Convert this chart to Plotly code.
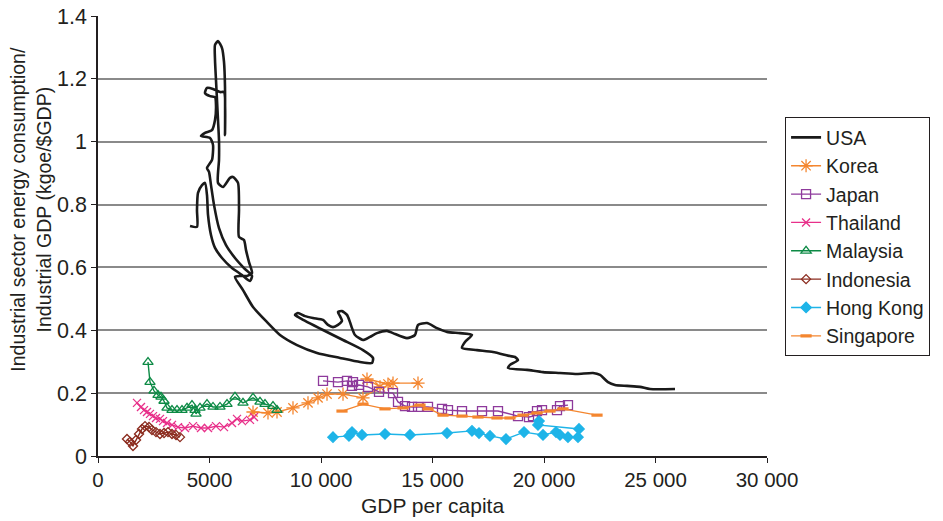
import plotly.graph_objects as go

# ---------------- data ----------------
usa_x = [4126, 4439, 4439, 4484, 4664, 4798, 4888, 4933, 5067, 5247, 5561, 6009, 6457, 6816, 6906,
         6547, 6143, 5740, 5426, 5202, 5067, 4978, 4888, 5112, 5157, 5022, 4619, 4798, 5112, 5247,
         5291, 5247, 5022, 4798, 4888, 5157, 5471, 5650, 5695, 5695, 5650, 5561, 5381, 5247, 5247,
         5291, 5336, 5381, 5426, 5426, 5381, 5605, 5919, 6054, 6278, 6323, 6323, 6547, 6637, 6771,
         6906, 6682, 6368, 6143, 6502, 6951, 7578, 8161, 8924, 9821, 10852, 11749, 12287, 12332, 11883,
         10987, 10090, 9058, 8834, 8969, 9283, 9641, 10090, 10314, 10538, 10762, 10942, 10852, 10762, 10942,
         11166, 11300, 11390, 11525, 11883, 12197, 12511, 12960, 13229, 13856, 14215, 14350, 14753, 15202, 15650,
         16233, 16771, 16457, 16323, 16995, 17713, 18475, 18700, 18834, 18475, 18386, 19238, 19955, 20717, 21480,
         22197, 22511, 22870, 23184, 23722, 24305, 24753, 25874]
usa_y = [0.732, 0.729, 0.783, 0.837, 0.862, 0.869, 0.830, 0.767, 0.703, 0.662, 0.630, 0.598, 0.576, 0.557, 0.573,
         0.598, 0.630, 0.671, 0.725, 0.799, 0.862, 0.904, 0.916, 0.942, 0.990, 1.012, 1.018, 1.028, 1.037, 1.069,
         1.117, 1.142, 1.145, 1.155, 1.171, 1.168, 1.158, 1.158, 1.021, 1.174, 1.254, 1.298, 1.320, 1.308, 1.260,
         1.196, 1.133, 1.069, 1.005, 0.942, 0.869, 0.856, 0.885, 0.888, 0.869, 0.783, 0.697, 0.687, 0.655, 0.617,
         0.582, 0.573, 0.573, 0.570, 0.528, 0.474, 0.426, 0.385, 0.353, 0.328, 0.312, 0.299, 0.296, 0.312, 0.337,
         0.369, 0.401, 0.439, 0.449, 0.455, 0.445, 0.439, 0.433, 0.417, 0.410, 0.417, 0.430, 0.445, 0.458, 0.461,
         0.449, 0.426, 0.407, 0.385, 0.369, 0.379, 0.391, 0.398, 0.391, 0.375, 0.385, 0.417, 0.423, 0.407, 0.395,
         0.391, 0.385, 0.363, 0.344, 0.337, 0.331, 0.318, 0.315, 0.305, 0.290, 0.280, 0.274, 0.267, 0.264, 0.261,
         0.264, 0.258, 0.235, 0.226, 0.223, 0.220, 0.213, 0.213]

korea_x = [6951, 7623, 8027, 8744, 9417, 9865, 10269, 10987, 11883, 12646, 12063, 13004, 13229, 14350]
korea_y = [0.140, 0.137, 0.140, 0.153, 0.169, 0.185, 0.197, 0.197, 0.185, 0.220, 0.245, 0.229, 0.232, 0.232]

japan_x = [10090, 10762, 11166, 11435, 11390, 11704, 12108, 12601, 13229, 13453, 13767, 14081, 14350, 14798,
           15426, 15695, 16323, 17220, 17937, 18834, 19327, 19507, 19686, 19910, 20583, 20717, 21076]
japan_y = [0.239, 0.235, 0.239, 0.235, 0.223, 0.226, 0.220, 0.204, 0.200, 0.172, 0.159, 0.156, 0.156, 0.156,
           0.150, 0.146, 0.143, 0.143, 0.143, 0.127, 0.124, 0.127, 0.143, 0.146, 0.146, 0.159, 0.162]

thailand_x = [1749, 1928, 2063, 2197, 2332, 2466, 2601, 2780, 2915, 3094, 3318, 3587, 3901, 4260, 4619,
              4933, 5291, 5650, 6009, 6233, 6457, 6816, 6996]
thailand_y = [0.169, 0.156, 0.146, 0.140, 0.134, 0.127, 0.121, 0.118, 0.111, 0.105, 0.099, 0.092, 0.089, 0.095, 0.089,
              0.089, 0.095, 0.092, 0.105, 0.118, 0.111, 0.115, 0.124]

malaysia_x = [2242, 2332, 2511, 2691, 2825, 2960, 3094, 3318, 3543, 3767, 3991, 4215, 4350, 4395, 4574,
              4888, 5157, 5471, 5785, 6143, 6502, 6951, 7264, 7489, 7847, 8027]
malaysia_y = [0.299, 0.235, 0.207, 0.194, 0.188, 0.175, 0.153, 0.146, 0.146, 0.146, 0.153, 0.162, 0.146, 0.134, 0.153,
              0.165, 0.156, 0.156, 0.165, 0.188, 0.169, 0.185, 0.172, 0.165, 0.159, 0.146]

indonesia_x = [1300, 1435, 1569, 1704, 1839, 1973, 2108, 2287, 2421, 2601, 2780, 2960, 3139, 3318, 3498, 3677]
indonesia_y = [0.054, 0.045, 0.032, 0.051, 0.070, 0.086, 0.095, 0.092, 0.083, 0.076, 0.070, 0.073, 0.076, 0.070, 0.067, 0.060]

hongkong_x = [10538, 11255, 11390, 11838, 12870, 13991, 15650, 16771, 17085, 17578, 18296, 19103, 19955, 20538,
              20717, 21076, 21525, 21569, 19731, 19776]
hongkong_y = [0.060, 0.064, 0.076, 0.067, 0.070, 0.067, 0.073, 0.080, 0.073, 0.064, 0.054, 0.076, 0.067, 0.076,
              0.067, 0.060, 0.060, 0.086, 0.099, 0.111]

singapore_x = [10942, 11883, 12870, 13677, 14439, 14798, 15471, 16323, 17040, 17892, 18475, 19058, 19686, 20269,
               20852, 22377]
singapore_y = [0.143, 0.165, 0.150, 0.153, 0.162, 0.150, 0.130, 0.127, 0.124, 0.121, 0.121, 0.130, 0.137, 0.143,
               0.150, 0.130]

x_tick_vals = [0, 5000, 10000, 15000, 20000, 25000, 30000]
x_tick_text = ["0", "5000", "10 000", "15 000", "20 000", "25 000", "30 000"]
y_tick_vals = [0, 0.2, 0.4, 0.6, 0.8, 1.0, 1.2, 1.4]
y_tick_text = ["0", "0.2", "0.4", "0.6", "0.8", "1", "1.2", "1.4"]

y_title = "Industrial sector energy consumption/<br>Industrial GDP (kgoe/$GDP)"
x_title = "GDP per capita"

# ---------------- figure ----------------
fig = go.Figure()

fig.add_trace(go.Scatter(x=usa_x, y=usa_y, mode="lines", name="USA",
                         line=dict(color="#1a1a1a", width=2.6, shape="spline", smoothing=0.6)))

def add_series(x, y, name, color, symbol, size, mwidth=1.3):
    fig.add_trace(go.Scatter(
        x=x, y=y, mode="lines+markers", name=name,
        line=dict(color=color, width=1.4),
        marker=dict(symbol=symbol, size=size, color=color,
                    line=dict(color=color, width=mwidth))))

add_series(korea_x, korea_y, "Korea", "#F4862F", "asterisk-open", 11)
add_series(japan_x, japan_y, "Japan", "#8E3A9C", "square-open", 9)
add_series(thailand_x, thailand_y, "Thailand", "#E8308A", "x-thin-open", 8)
add_series(malaysia_x, malaysia_y, "Malaysia", "#0C8A45", "triangle-up-open", 9)
add_series(indonesia_x, indonesia_y, "Indonesia", "#8B2B1E", "diamond-open", 7)
add_series(hongkong_x, hongkong_y, "Hong Kong", "#1EB4E8", "diamond", 8)
add_series(singapore_x, singapore_y, "Singapore", "#F4862F", "line-ew-open", 8, mwidth=3.2)

fig.update_layout(
    width=943, height=521,
    margin=dict(l=98, r=176, t=16, b=65, autoexpand=False),
    paper_bgcolor="white", plot_bgcolor="white",
    font=dict(family="Liberation Sans, Arial, sans-serif", size=20, color="#231f20"),
    showlegend=True,
    legend=dict(x=1.027, y=0.77, xanchor="left", yanchor="top",
                bordercolor="#231f20", borderwidth=1, bgcolor="white",
                font=dict(size=19.5), tracegroupgap=0, itemwidth=30),
    annotations=[dict(text=y_title, textangle=-90, xref="paper", yref="paper",
                      x=-0.1, y=0.56, xanchor="center", yanchor="middle",
                      showarrow=False, font=dict(size=19.5))],
)

fig.update_xaxes(
    range=[0, 30000], tickvals=x_tick_vals, ticktext=x_tick_text,
    showgrid=False, zeroline=False, automargin=False,
    showline=True, linecolor="#231f20", linewidth=1.5,
    ticks="outside", ticklen=5, tickcolor="#231f20",
    tickfont=dict(size=20.5), ticklabeloverflow="allow",
    title=dict(text=x_title, font=dict(size=21), standoff=8),
)
fig.update_yaxes(
    range=[0, 1.4], tickvals=y_tick_vals, ticktext=y_tick_text,
    showgrid=True, gridcolor="#8a8a8a", gridwidth=1.5, zeroline=False, automargin=False,
    showline=True, linecolor="#231f20", linewidth=1.5,
    ticks="outside", ticklen=5, tickcolor="#231f20",
    tickfont=dict(size=21.5), ticklabeloverflow="allow",
)

# remove the browser's default 8px body margin so the figure sits at the page's top-left corner
fig.write_html("out.html", config={"displayModeBar": False},
               post_script="document.body.style.margin='0';")
